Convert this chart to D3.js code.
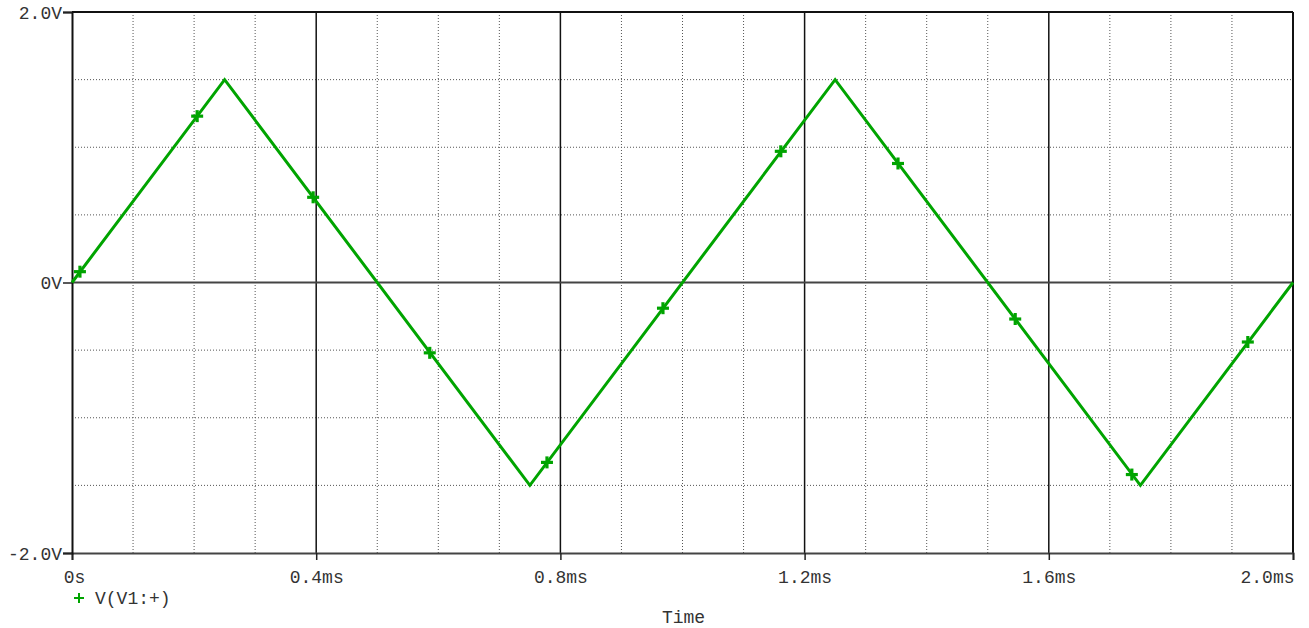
<!DOCTYPE html>
<html>
<head>
<meta charset="utf-8">
<script src="https://cdn.jsdelivr.net/npm/d3@7"></script>
<style>
  html, body { margin: 0; padding: 0; background: #fff; }
  svg { display: block; }
  text { font-family: "Liberation Mono", "DejaVu Sans Mono", monospace; font-size: 18px; fill: #333; }
</style>
</head>
<body>
<svg id="chart" width="1309" height="628"></svg>
<script>
// Waveform corners: time (ms) and voltage (V)
const timeMs   = [0, 0.25, 0.75, 1.25, 1.75, 2.0];
const voltage  = [0, 1.5, -1.5, 1.5, -1.5, 0];

// Trace markers placed along the waveform
const markerTime = [0.013, 0.205, 0.395, 0.586, 0.778, 0.968, 1.161, 1.353, 1.545, 1.736, 1.926];
const markerVolt = [0.08, 1.23, 0.63, -0.52, -1.33, -0.19, 0.97, 0.88, -0.27, -1.42, -0.44];

// Axis ticks and labels
const xTicks = [0, 0.4, 0.8, 1.2, 1.6, 2.0];
const xTickLabels = ["0s", "0.4ms", "0.8ms", "1.2ms", "1.6ms", "2.0ms"];
const yTicks = [-2, 0, 2];
const yTickLabels = ["-2.0V", "0V", "2.0V"];
const xGrid = [0.1, 0.2, 0.3, 0.5, 0.6, 0.7, 0.9, 1.0, 1.1, 1.3, 1.4, 1.5, 1.7, 1.8, 1.9];
const yGrid = [-1.5, -1.0, -0.5, 0.5, 1.0, 1.5];

const traceName = "V(V1:+)";
const xTitle = "Time";

const svg = d3.select("#chart");
const plotL = 72, plotR = 1293, plotT = 12, plotB = 553;
const green = "#00a400";
const fontFam = "'Liberation Mono', 'DejaVu Sans Mono', monospace";

const x = d3.scaleLinear().domain([0, 2]).range([plotL, plotR]);
const y = d3.scaleLinear().domain([-2, 2]).range([plotB, plotT]);

// Dotted minor grid
svg.append("g").selectAll("line").data(xGrid).join("line")
  .attr("x1", d => x(d)).attr("x2", d => x(d))
  .attr("y1", plotT).attr("y2", plotB)
  .attr("stroke", "#555").attr("stroke-width", 1).attr("stroke-dasharray", "1,2");
svg.append("g").selectAll("line").data(yGrid).join("line")
  .attr("x1", plotL).attr("x2", plotR)
  .attr("y1", d => y(d)).attr("y2", d => y(d))
  .attr("stroke", "#555").attr("stroke-width", 1).attr("stroke-dasharray", "1,2");

// Solid major grid
svg.append("g").selectAll("line").data(xTicks.slice(1, -1)).join("line")
  .attr("x1", d => x(d)).attr("x2", d => x(d))
  .attr("y1", plotT).attr("y2", plotB)
  .attr("stroke", "#111").attr("stroke-width", 1.5);
svg.append("line")
  .attr("x1", plotL).attr("x2", plotR).attr("y1", y(0)).attr("y2", y(0))
  .attr("stroke", "#444").attr("stroke-width", 2);

// Frame
svg.append("line").attr("x1", plotL).attr("x2", plotR).attr("y1", plotT).attr("y2", plotT)
  .attr("stroke", "#111").attr("stroke-width", 2);
svg.append("line").attr("x1", plotR).attr("x2", plotR).attr("y1", plotT).attr("y2", plotB)
  .attr("stroke", "#111").attr("stroke-width", 2);

// Axes
const xAxis = d3.axisBottom(x).tickValues(xTicks).tickSize(7)
  .tickFormat((d, i) => xTickLabels[i]);
const gx = svg.append("g").attr("transform", `translate(0,${plotB})`).call(xAxis);
gx.select(".domain").attr("stroke", "#444").attr("stroke-width", 2);
gx.selectAll(".tick line").attr("stroke", "#222").attr("stroke-width", 1.5);
gx.selectAll("text").attr("dy", null).attr("y", 30)
  .style("font-family", fontFam).style("font-size", "18px").attr("fill", "#333");
// first label nudged right, last one kept inside the page
gx.selectAll(".tick").filter((d, i) => i === 0).select("text").attr("x", 2);
gx.selectAll(".tick").filter((d, i) => i === xTicks.length - 1)
  .select("text").attr("text-anchor", "end").attr("x", 1);

const yAxis = d3.axisLeft(y).tickValues(yTicks).tickSize(9)
  .tickFormat((d, i) => yTickLabels[i]);
const gy = svg.append("g").attr("transform", `translate(${plotL},0)`).call(yAxis);
gy.select(".domain").attr("stroke", "#111").attr("stroke-width", 2);
gy.selectAll(".tick line").attr("stroke", "#222").attr("stroke-width", 1.5);
gy.selectAll("text").attr("x", -10).attr("dy", "0.35em")
  .style("font-family", fontFam).style("font-size", "18px").attr("fill", "#333");

// Trace
const pts = timeMs.map((t, i) => [t, voltage[i]]);
svg.append("path").datum(pts)
  .attr("fill", "none").attr("stroke", green).attr("stroke-width", 3)
  .attr("stroke-linejoin", "miter")
  .attr("d", d3.line().x(d => x(d[0])).y(d => y(d[1])));

// "+" markers
const m = 6;
const mk = svg.append("g").attr("stroke", green).attr("stroke-width", 3.2);
markerTime.forEach((t, i) => {
  const cx = x(t), cy = y(markerVolt[i]);
  mk.append("line").attr("x1", cx - m).attr("x2", cx + m).attr("y1", cy).attr("y2", cy);
  mk.append("line").attr("x1", cx).attr("x2", cx).attr("y1", cy - m).attr("y2", cy + m);
});

// Legend
const lg = svg.append("g").attr("transform", "translate(79,598)");
lg.append("line").attr("x1", -5).attr("x2", 5).attr("y1", 0).attr("y2", 0).attr("stroke", green).attr("stroke-width", 2);
lg.append("line").attr("x1", 0).attr("x2", 0).attr("y1", -5).attr("y2", 5).attr("stroke", green).attr("stroke-width", 2);
lg.append("text").attr("x", 16).attr("y", 0).attr("dy", "0.35em").text(traceName);

// Axis title
svg.append("text").attr("x", (plotL + plotR) / 2 + 1).attr("y", 623)
  .attr("text-anchor", "middle").text(xTitle);
</script>
</body>
</html>
